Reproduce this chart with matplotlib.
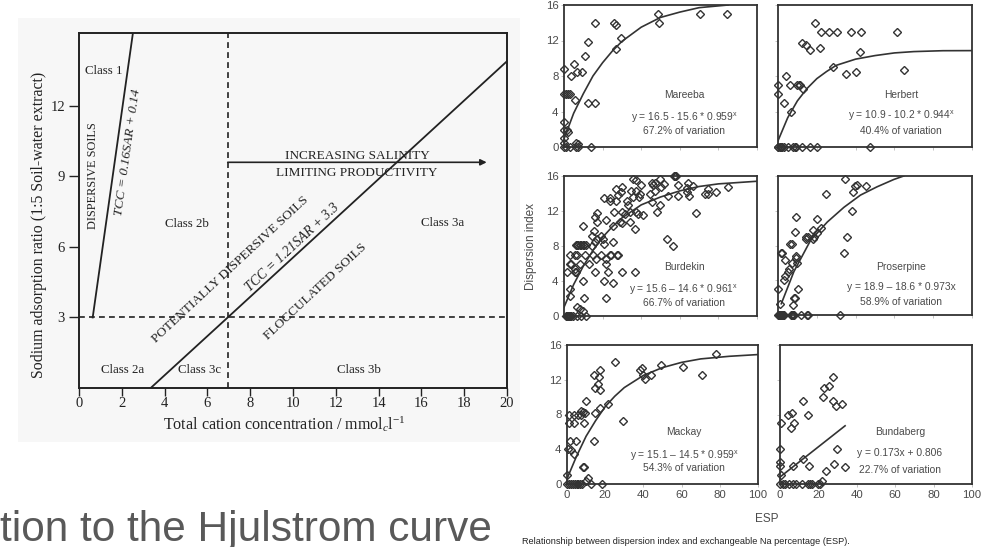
import matplotlib
matplotlib.use('Agg')
import matplotlib.pyplot as plt
from matplotlib.patches import Rectangle

W, H = 987, 547
plt.rcParams['font.family'] = 'Liberation Sans'
plt.rcParams['mathtext.fontset'] = 'custom'
plt.rcParams['mathtext.rm'] = 'Liberation Serif'
plt.rcParams['mathtext.it'] = 'Liberation Serif:italic'

# left chart lines
tcc1_x = [0.64, 2.52]
tcc1_y = [3, 15.1]
tcc2_x = [3.35, 6.95, 20]
tcc2_y = [0, 3, 13.9]
sar_limit = 3
tcc_limit = 6.95
arrow_y = 9.6
arrow_end = 19.05
left_xticks = [0, 2, 4, 6, 8, 10, 12, 14, 16, 18, 20]
left_yticks = [3, 6, 9, 12]

# scatter panels
mareeba_x = [16.2, 26, 27.2, 29.3, 26.7, 48.5, 49, 70.7, 84.7, 12.2, 11, 5.3, 0, 3.4, 6.5, 9.3, 5.8, 12.6, 16.2,
             0, 1, 2, 3, 0, 0, 1.4, 2, 0, 0, 6.2, 7.4, 0, 1, 3, 6, 7, 14]
mareeba_y = [14, 14, 13.8, 12.3, 11, 15, 14, 15, 15, 11.8, 10.3, 9.3, 8.8, 8, 8.5, 8.5, 5.3, 5, 5,
             6, 6, 6, 6, 2.8, 1.9, 1.9, 1.7, 1, 0.4, 0.5, 0.3, 0, 0, 0, 0, 0, 0]
mareeba_line_x = [0, 5, 10, 15, 20, 25, 30, 40, 50, 60, 70, 85]
mareeba_line_y = [0.9, 3.8, 6.0, 8.0, 9.5, 10.8, 11.9, 13.5, 14.6, 15.2, 15.7, 16]

herbert_x = [19.3, 22, 26.2, 30.3, 37.8, 42.9, 61.2, 12.2, 14.3, 16.4, 21.6, 42.2, 28.4, 34.8, 40, 64.7, 4.3,
             0, 6, 10, 10.9, 11.5, 12.9, 0, 3.1, 6.6,
             0, 0.2, 0.9, 1.6, 2.2, 2.9, 5.2, 7.8, 8.6, 9.5, 12.4, 16.4, 20.3, 47.4]
herbert_y = [14, 13, 13, 13, 13, 13, 13, 11.7, 11.5, 10.9, 11.2, 10.7, 9, 8.2, 8.5, 8.7, 8,
             7, 7, 7, 7, 7, 6.5, 6, 5, 4,
             0, 0, 0, 0, 0, 0, 0, 0, 0, 0, 0, 0, 0, 0]
herbert_line_x = [0, 5, 10, 15, 20, 25, 30, 40, 50, 60, 70, 85, 100]
herbert_line_y = [0.7, 3.3, 5.2, 6.6, 7.7, 8.5, 9.2, 9.9, 10.3, 10.6, 10.75, 10.85, 10.86]

burdekin_x = [57.4, 57.0, 57.8, 35.8, 37.5, 50, 45.8, 46.2, 47, 51.7, 50.5, 59.3, 64.4, 66.6, 63.5, 40, 30, 27.2,
              29.4, 28, 47, 44.8, 34.6, 37.5, 39.3, 35.5, 39, 54, 59.3, 64.7, 63.5, 73, 74.7, 74.7, 79, 84.8,
              20.6, 23.7, 23.7, 27.2, 32.4, 33.2, 45.7, 49.7, 48, 68.2, 17.1, 15.9, 17.1, 22, 26, 29.8, 31.5,
              34, 37.5, 41, 38.4, 34, 36.7, 28.9, 29.8, 25.4, 9.9, 15.4, 14.7, 19, 17.1, 20.2, 16.3, 20.6, 25.4,
              53.5, 56.6, 14.7, 6.1, 6.8, 7.5, 8.2, 8.9, 9.6, 10.3, 11.2,
              2.9, 5.5, 6.7, 10.7, 15, 19.4, 23.7, 24.6, 28, 27.5, 16.8, 22, 3, 3.8, 8.1, 12.8, 22, 5.5, 1.6,
              5.5, 6.4, 16, 22.8, 29.8, 36.7, 9.9, 20.6, 25.4, 3, 3, 10.4, 22, 6.7, 8.1, 9.9,
              1.2, 1.6, 2, 2.4, 2.8, 3.2, 3.6, 4.7, 6.7, 9, 11.2]
burdekin_y = [16, 16, 16, 15.7, 15.5, 15.7, 15.2, 15, 15.2, 15.1, 14.8, 15, 15.2, 14.9, 14.6, 15, 14.8, 14.5,
              14.2, 13.8, 14.3, 14, 14.3, 14.3, 14, 13.6, 13.6, 13.7, 13.7, 13.7, 14.2, 14, 14.5, 14, 14.2, 14.8,
              13.5, 13.5, 13.2, 13.2, 13.2, 12.7, 13, 12.7, 11.9, 11.8, 11.8, 11.3, 10.8, 11, 11.9, 11.9, 11.7,
              11.9, 11.9, 11.5, 11.7, 10.8, 10, 10.8, 10.6, 10.3, 10.3, 9.7, 9.2, 9.2, 8.8, 8.8, 8.5, 8.2, 8.5,
              8.8, 8, 8, 8.1, 8.1, 8.1, 8.1, 8.1, 8.1, 8.1, 8.1,
              7, 7, 7, 7, 7, 7, 7, 7, 7, 7, 6.5, 6.5, 6, 6, 6, 6, 6, 5.4, 5,
              5, 5, 5, 5, 5, 5, 4, 4, 3.8, 3.1, 2.3, 2.1, 2.1, 1, 0.8, 0.6,
              0, 0, 0, 0, 0, 0, 0, 0, 0, 0, 0]
burdekin_line_x = [0, 5, 10, 15, 20, 25, 30, 40, 50, 60, 70, 80, 100]
burdekin_line_y = [1, 3.6, 5.7, 7.5, 9, 10.2, 11.2, 12.7, 13.6, 14.3, 14.8, 15.1, 15.4]

proserpine_x = [34.6, 40.8, 39.6, 38.6, 45.5, 24.9, 38.1, 9.4, 20.2, 22, 18.2, 19.9, 8.9, 14.6, 15.6, 14.6, 18, 18.5,
                35.7, 6.2, 7.4, 34, 1.4, 2.2, 9.4, 9.1, 3.6, 7.4, 10, 5.7, 5.3, 3.4, 3.1, 0, 10.5, 8.2, 8.7, 7.5, 0.9,
                0, 0.4, 0.8, 1.2, 1.6, 2, 2.4, 2.8, 3.2, 6.5, 7, 7.5, 8.2, 12, 15.1, 15.6, 32.2]
proserpine_y = [15.7, 15, 14.8, 14.2, 14.8, 13.9, 12, 11.3, 11, 10, 9.8, 9.4, 9.5, 9, 9, 8.7, 8.7, 9,
                9, 8.2, 8.2, 7.1, 7.1, 7.1, 6.8, 6.6, 6.3, 6, 6, 5.3, 5, 4.5, 4, 3, 3, 2, 2, 1.1, 1.3,
                0, 0, 0, 0, 0, 0, 0, 0, 0, 0, 0, 0, 0, 0, 0, 0, 0]
proserpine_line_x = [1.7, 8.2, 16.8, 25.4, 34, 42.5, 51, 59.7, 64.8]
proserpine_line_y = [1.3, 5, 8.6, 10.7, 12.4, 13.8, 14.75, 15.6, 16]

mackay_x = [25.3, 77.8, 70.5, 60.7, 49.1, 43.9, 38.1, 39.3, 39.9, 40.7, 17.1, 14, 16.6, 16.4, 14.5, 17.1, 10.1, 21.5,
            17.1, 14.5, 29.4, 0.9, 3.7, 5.8, 7.5, 8.4, 9.3, 7.5, 0.9, 3.7, 8.9, 14, 1.7, 4.9, 0.5, 2.3, 3.5, 8.4, 8.8,
            0, 11, 10.1, 0, 1, 2, 3, 4, 5, 6, 7, 8, 12.8, 18.2]
mackay_y = [14, 15, 12.6, 13.5, 13.75, 12.6, 13.1, 13.35, 12.6, 12.1, 13.1, 12.6, 12.3, 11.5, 11, 10.8, 9.5, 9.2,
            8.7, 8.2, 7.3, 8, 8, 8, 8, 8.3, 8.2, 8.4, 7, 7, 7, 5, 5, 5, 4, 3.9, 3.4, 2, 2,
            1, 0.7, 0.4, 0, 0, 0, 0, 0, 0, 0, 0, 0, 0, 0]
mackay_line_x = [0, 5, 10, 15, 20, 25, 30, 40, 50, 60, 70, 85, 100]
mackay_line_y = [0.6, 3.2, 5.5, 7.3, 8.9, 10.1, 11.1, 12.5, 13.4, 14, 14.4, 14.7, 14.9]

bundaberg_x = [27.8, 23.1, 25.6, 22.6, 27.8, 29.2, 32.5, 12.2, 14.4, 6.4, 4, 0.5, 7.1, 5.7, 0, 29.7, 12.2, 0, 0, 7,
               15.1, 28.3, 33.6, 23.8, 0.3, 22, 0, 1.4, 2.6, 4.9, 7, 8.3, 11.3, 14.8, 15.7, 16.5, 20, 20.9]
bundaberg_y = [12.3, 11, 11.3, 10, 9.5, 9, 9.2, 9.5, 7.9, 8.2, 7.9, 7, 7, 6.5, 4, 4, 2.9, 2.5, 2.1, 2.1,
               2.1, 2.3, 2, 1.5, 1, 0.3, 0, 0, 0, 0, 0, 0, 0, 0, 0, 0, 0, 0]
bundaberg_line_x = [0, 33.9]
bundaberg_line_y = [0.8, 6.7]

x_ticks = [0, 20, 40, 60, 80, 100]
y_ticks = [0, 4, 8, 12, 16]

GREY = '#4a4a4a'
DARK = '#333333'
SUP = r'$^{\mathregular{x}}$'


def add_axes_px(fig, left, top, right, bottom):
    return fig.add_axes([left / W, 1 - bottom / H, (right - left) / W, (bottom - top) / H])


def put(fig, x, y, s, **kw):
    kw.setdefault('ha', 'center')
    kw.setdefault('va', 'center')
    fig.text(x / W, 1 - y / H, s, **kw)


fig = plt.figure(figsize=(W / 100, H / 100), dpi=100)

# faint scanned page behind the left chart
fig.patches.append(Rectangle((18 / W, 1 - 442 / H), 502 / W, 424 / H, transform=fig.transFigure,
                             facecolor='#f7f7f7', edgecolor='none', zorder=-1))

ax = add_axes_px(fig, 79, 33, 507, 388)
ax.set_xlim(0, 20)
ax.set_ylim(0, 15.1)
ax.patch.set_alpha(0)
ax.plot(tcc1_x, tcc1_y, color='#222222', lw=1.3)
ax.plot(tcc2_x, tcc2_y, color='#222222', lw=1.3)
ax.plot([0, 20], [sar_limit, sar_limit], color='#222222', lw=1.2, ls=(0, (3.5, 2.5)))
ax.plot([tcc_limit, tcc_limit], [0, 15.1], color='#222222', lw=1.2, ls=(0, (3.5, 2.5)))
ax.annotate('', xy=(arrow_end, arrow_y), xytext=(tcc_limit, arrow_y),
            arrowprops=dict(arrowstyle='-|>', color='#222222', lw=1.2, shrinkA=0, shrinkB=0, mutation_scale=9))
ax.set_xticks(left_xticks)
ax.set_yticks(left_yticks)
ax.tick_params(length=7, width=1, color='#222222', labelsize=10.5, labelcolor='#222222', pad=3)
ax.tick_params(axis='x', length=5.5, pad=1)
for lab in ax.get_xticklabels() + ax.get_yticklabels():
    lab.set_family('Liberation Serif')
for sp in ax.spines.values():
    sp.set_linewidth(1.4)
    sp.set_color('#222222')

serif = dict(family='Liberation Serif', color='#222222')
put(fig, 39, 225, 'Sodium adsorption ratio (1:5 Soil-water extract)', rotation=90, fontsize=11.4, **serif)
put(fig, 284, 424, r'Total cation concentration / mmol$_{c}$l$^{-1}$', fontsize=11.6, **serif)
put(fig, 104, 71, 'Class 1', fontsize=9.3, **serif)
put(fig, 187, 224, 'Class 2b', fontsize=9.3, **serif)
put(fig, 443, 223, 'Class 3a', fontsize=9.3, **serif)
put(fig, 123, 370, 'Class 2a', fontsize=9.3, **serif)
put(fig, 200, 370, 'Class 3c', fontsize=9.3, **serif)
put(fig, 359, 370, 'Class 3b', fontsize=9.3, **serif)
put(fig, 93, 176, 'DISPERSIVE SOILS', rotation=90, fontsize=8.8, **serif)
put(fig, 128, 152, 'TCC = 0.16SAR + 0.14', rotation=82, style='italic', fontsize=9.7, **serif)
put(fig, 357, 156, 'INCREASING SALINITY', fontsize=9.5, **serif)
put(fig, 357, 173, 'LIMITING PRODUCTIVITY', fontsize=9.5, **serif)
put(fig, 230, 270, 'POTENTIALLY DISPERSIVE SOILS', rotation=43, fontsize=9.6, rotation_mode='anchor', **serif)
put(fig, 292, 248, 'TCC = 1.21SAR + 3.3', rotation=43, style='italic', fontsize=9.8, rotation_mode='anchor', **serif)
put(fig, 315, 292, 'FLOCCULATED SOILS', rotation=43, fontsize=9.6, rotation_mode='anchor', **serif)

put(fig, 0, 541, 'tion to the Hjulstrom curve', ha='left', va='baseline', fontsize=30.5, color='#595959')

panels = [
    (mareeba_x, mareeba_y, mareeba_line_x, mareeba_line_y, (564, 5, 757, 147)),
    (herbert_x, herbert_y, herbert_line_x, herbert_line_y, (778, 5, 972, 147)),
    (burdekin_x, burdekin_y, burdekin_line_x, burdekin_line_y, (564, 176, 757, 316)),
    (proserpine_x, proserpine_y, proserpine_line_x, proserpine_line_y, (778, 176, 972, 315)),
    (mackay_x, mackay_y, mackay_line_x, mackay_line_y, (567, 345, 758, 484)),
    (bundaberg_x, bundaberg_y, bundaberg_line_x, bundaberg_line_y, (780, 345, 972, 484)),
]

for n, (px, py, lx, ly, box) in enumerate(panels):
    a = add_axes_px(fig, *box)
    a.set_xlim(0, 100)
    a.set_ylim(0, 16)
    a.plot(lx, ly, color=DARK, lw=1.2, zorder=2)
    a.plot(px, py, ls='none', marker='D', ms=4.2, mfc='none', mec=DARK, mew=1.0, clip_on=False, zorder=3)
    a.set_xticks(x_ticks)
    a.set_yticks(y_ticks)
    a.tick_params(length=2, width=0.5, color='#aaaaaa', labelsize=8.2, labelcolor=GREY, pad=2,
                  labelleft=n % 2 == 0, labelbottom=n >= 4)
    for sp in a.spines.values():
        sp.set_linewidth(1.3)
        sp.set_color(DARK)

sans = dict(fontsize=7.4, color=GREY)
put(fig, 684, 95, 'Mareeba', **sans)
put(fig, 684, 117, 'y = 16.5 - 15.6 * 0.959' + SUP, **sans)
put(fig, 684, 131, '67.2% of variation', **sans)
put(fig, 901, 95, 'Herbert', **sans)
put(fig, 901, 115, 'y = 10.9 - 10.2 * 0.944' + SUP, **sans)
put(fig, 901, 131, '40.4% of variation', **sans)
put(fig, 684, 267, 'Burdekin', **sans)
put(fig, 684, 289, 'y = 15.6 \u2013 14.6 * 0.961' + SUP, **sans)
put(fig, 684, 303, '66.7% of variation', **sans)
put(fig, 901, 267, 'Proserpine', **sans)
put(fig, 901, 287, 'y = 18.9 \u2013 18.6 * 0.973x', **sans)
put(fig, 901, 302, '58.9% of variation', **sans)
put(fig, 684, 432, 'Mackay', **sans)
put(fig, 684, 455, 'y = 15.1 \u2013 14.5 * 0.959' + SUP, **sans)
put(fig, 684, 468, '54.3% of variation', **sans)
put(fig, 900, 432, 'Bundaberg', **sans)
put(fig, 900, 453, 'y = 0.173x + 0.806', **sans)
put(fig, 900, 470, '22.7% of variation', **sans)

put(fig, 531, 246, 'Dispersion index', rotation=90, fontsize=8.5, color=GREY)
put(fig, 767, 519, 'ESP', fontsize=8.5, color=GREY)
put(fig, 522, 542, 'Relationship between dispersion index and exchangeable Na percentage (ESP).', ha='left',
    fontsize=6.6, color='#222222')

fig.savefig('out.png', dpi=100)
